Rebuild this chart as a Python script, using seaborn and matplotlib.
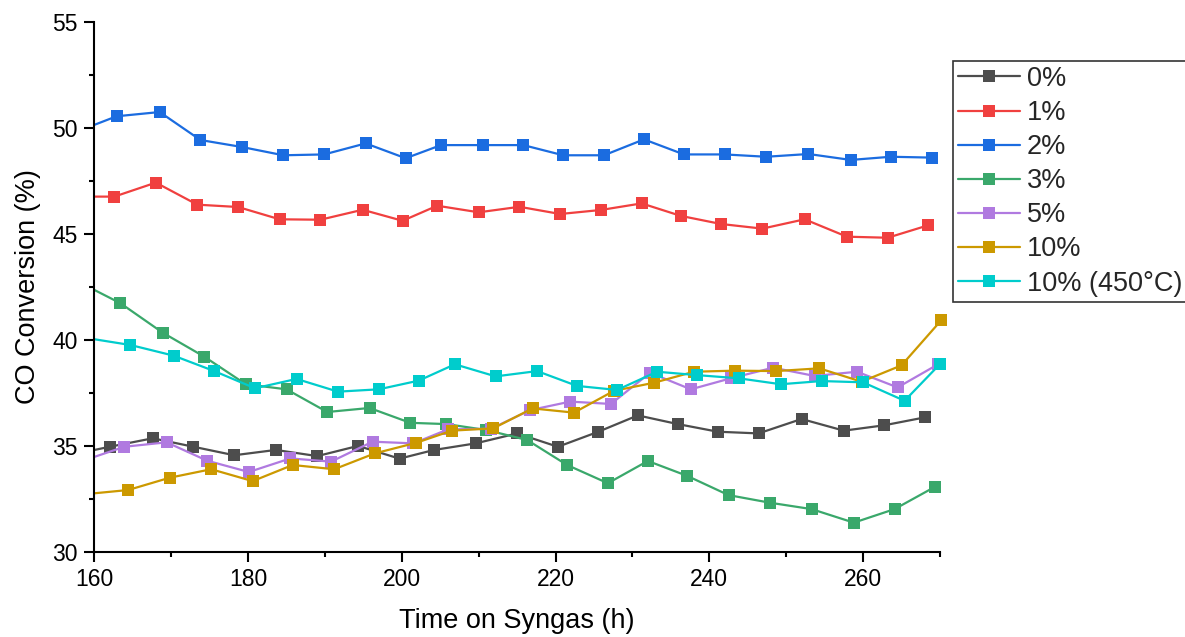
import numpy as np
import pandas as pd
import matplotlib
matplotlib.use("Agg")
import matplotlib.pyplot as plt
from matplotlib.lines import Line2D
from matplotlib.patches import Rectangle
from matplotlib.ticker import MultipleLocator
import seaborn as sns

# Catalyst loadings (legend labels) and their line colours
loadings = ["0%", "1%", "2%", "3%", "5%", "10%", "10% (450°C)"]
colors = ["#4d4d4d", "#f0403f", "#1b6ce0", "#3aa86b", "#b07ae0", "#cc9900", "#00cccc"]

# Time on syngas (h) and CO conversion (%) for each loading
hours_0 = [156.7, 162.0, 167.6, 172.9, 178.2, 183.6, 189.0, 194.3, 199.7, 204.2, 209.6,
           215.0, 220.3, 225.5, 230.7, 235.9, 241.1, 246.4, 252.0, 257.5, 262.7, 268.1]
conv_0 = [34.55, 34.95, 35.35, 34.95, 34.55, 34.80, 34.51, 34.99, 34.39, 34.80, 35.11,
          35.58, 34.95, 35.65, 36.43, 36.02, 35.66, 35.58, 36.26, 35.71, 35.96, 36.34]

hours_1 = [157.3, 162.6, 168.0, 173.4, 178.7, 184.1, 189.4, 194.9, 200.1, 204.6, 210.0,
           215.3, 220.6, 225.9, 231.2, 236.3, 241.5, 246.9, 252.4, 257.9, 263.2, 268.5]
conv_1 = [46.75, 46.75, 47.41, 46.37, 46.26, 45.68, 45.66, 46.13, 45.61, 46.32, 46.01,
          46.27, 45.93, 46.12, 46.43, 45.84, 45.46, 45.24, 45.68, 44.86, 44.81, 45.40]

hours_2 = [157.6, 162.9, 168.5, 173.8, 179.2, 184.6, 189.9, 195.3, 200.5, 205.1, 210.5,
           215.8, 221.0, 226.3, 231.5, 236.7, 242.0, 247.4, 252.9, 258.4, 263.6, 269.0]
conv_2 = [49.80, 50.54, 50.74, 49.42, 49.09, 48.70, 48.74, 49.26, 48.56, 49.18, 49.18,
          49.18, 48.70, 48.70, 49.45, 48.74, 48.74, 48.63, 48.76, 48.48, 48.63, 48.59]

hours_3 = [158.1, 163.4, 168.9, 174.3, 179.7, 185.0, 190.3, 195.8, 201.1, 205.8, 211.0,
           216.3, 221.5, 226.8, 232.0, 237.1, 242.5, 247.9, 253.3, 258.8, 264.1, 269.4]
conv_3 = [42.70, 41.72, 40.33, 39.20, 37.90, 37.66, 36.59, 36.78, 36.08, 36.02, 35.74,
          35.27, 34.09, 33.23, 34.28, 33.58, 32.67, 32.31, 32.01, 31.37, 32.01, 33.07]

hours_5 = [158.6, 163.9, 169.4, 174.7, 180.1, 185.5, 190.8, 196.2, 201.5, 206.0, 211.6,
           216.7, 221.9, 227.2, 232.3, 237.6, 242.8, 248.3, 253.7, 259.2, 264.5, 269.8]
conv_5 = [34.30, 34.95, 35.16, 34.29, 33.76, 34.40, 34.25, 35.19, 35.11, 35.77, 35.80,
          36.68, 37.08, 36.97, 38.44, 37.66, 38.18, 38.68, 38.29, 38.49, 37.75, 38.85]

hours_10 = [159.0, 164.4, 169.8, 175.2, 180.6, 185.8, 191.2, 196.5, 201.9, 206.5, 211.9,
            217.0, 222.4, 227.6, 232.8, 238.0, 243.3, 248.7, 254.3, 259.8, 265.0, 270.2]
conv_10 = [32.72, 32.91, 33.49, 33.89, 33.33, 34.09, 33.89, 34.64, 35.14, 35.71, 35.82,
           36.76, 36.56, 37.59, 37.97, 38.49, 38.54, 38.52, 38.65, 38.02, 38.79, 40.93]

hours_450 = [159.0, 164.7, 170.3, 175.6, 180.9, 186.3, 191.7, 197.0, 202.2, 206.9, 212.2,
             217.6, 222.8, 228.0, 233.2, 238.4, 243.8, 249.3, 254.6, 260.0, 265.4, 270.0]
conv_450 = [40.08, 39.75, 39.25, 38.52, 37.71, 38.15, 37.55, 37.66, 38.07, 38.84, 38.27,
            38.52, 37.82, 37.63, 38.49, 38.33, 38.18, 37.90, 38.05, 37.99, 37.12, 38.85]

x_ticks = [160, 180, 200, 220, 240, 260]
y_ticks = [30, 35, 40, 45, 50, 55]

series = [(hours_0, conv_0), (hours_1, conv_1), (hours_2, conv_2), (hours_3, conv_3),
          (hours_5, conv_5), (hours_10, conv_10), (hours_450, conv_450)]
frames = []
for label, (h, c) in zip(loadings, series):
    frames.append(pd.DataFrame({"hour": h, "conv": c, "loading": label}))
df = pd.concat(frames, ignore_index=True)

sns.set_theme(style="ticks")
plt.rcParams["font.family"] = ["Liberation Sans", "DejaVu Sans"]
plt.rcParams["axes.linewidth"] = 1.5
plt.rcParams["xtick.labelsize"] = 16.5
plt.rcParams["ytick.labelsize"] = 16.5

fig = plt.figure(figsize=(11.85, 6.37), dpi=100)
ax = fig.add_axes([0.0796, 0.1339, 0.7136, 0.832])

palette = dict(zip(loadings, colors))
sns.lineplot(data=df, x="hour", y="conv", hue="loading", hue_order=loadings,
             palette=palette, marker="s", markersize=8.8, markeredgewidth=0,
             linewidth=1.6, estimator=None, sort=False, legend=False, ax=ax)

# clip at the left edge, let the end markers show fully at the right edge
clip = Rectangle((0, -0.05), 1.02, 1.1, transform=ax.transAxes)
for ln in ax.lines:
    ln.set_clip_path(clip)

ax.set_xlim(160, 270)
ax.set_ylim(30, 55)
ax.set_xticks(x_ticks)
ax.set_xticklabels([str(v) for v in x_ticks], fontsize=16.5)
ax.set_yticks(y_ticks)
ax.set_yticklabels([str(v) for v in y_ticks], fontsize=16.5)
ax.xaxis.set_minor_locator(MultipleLocator(10))
ax.yaxis.set_minor_locator(MultipleLocator(2.5))
ax.tick_params(which="major", direction="out", length=7, width=1.5,
               colors="black", pad=5)
ax.tick_params(which="minor", direction="out", length=3.5, width=1.5, colors="black")
for side in ["top", "right"]:
    ax.spines[side].set_visible(False)
for side in ["left", "bottom"]:
    ax.spines[side].set_color("black")

ax.set_xlabel("Time on Syngas (h)", fontsize=19.5, labelpad=12, color="black")
ax.set_ylabel("CO Conversion (%)", fontsize=19.5, labelpad=8, color="black")

handles = [Line2D([], [], color=c, marker="s", markersize=8.8, markeredgewidth=0,
                  linewidth=1.6) for c in colors]
leg = fig.legend(handles, loadings, loc="upper left",
                 bbox_to_anchor=(953 / 1185, 1 - 61 / 637), bbox_transform=fig.transFigure,
                 fontsize=19.5, frameon=True, fancybox=False, framealpha=1,
                 edgecolor="#333333", borderpad=0.18, borderaxespad=0,
                 handlelength=2.29, handletextpad=0.26, labelspacing=0.30)
leg.get_frame().set_linewidth(1.2)

fig.savefig("out.png", dpi=100)
